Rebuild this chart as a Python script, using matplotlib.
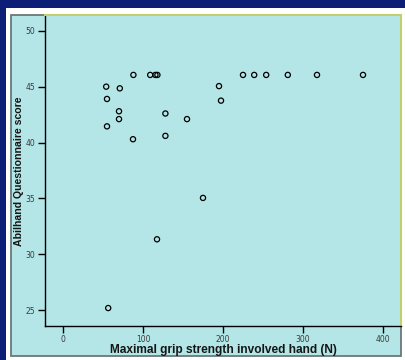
import matplotlib.pyplot as plt
from matplotlib.patches import Rectangle

# grip strength (N) vs Abilhand score
grip = [54, 55, 55, 71, 70, 70, 88, 87.5, 109, 115.5, 118, 128, 128,
        155, 225, 239, 254, 281, 317.5, 375, 195, 197.5, 117.5, 56.5, 175]
score = [45.0, 43.9, 41.45, 44.85, 42.8, 42.1, 46.05, 40.3, 46.05, 46.05, 46.05,
         42.6, 40.6, 42.1, 46.05, 46.05, 46.05, 46.05, 46.05, 46.05, 45.05,
         43.75, 31.35, 25.2, 35.05]
xticks = [0, 100, 200, 300, 400]
yticks = [25, 30, 35, 40, 45, 50]

W, H = 405, 360
NAVY = "#0c1e76"
CYAN = "#b4e6e8"
OLIVE = "#c3cf6c"
GREY = "#6b7878"

fig = plt.figure(figsize=(W / 100, H / 100), dpi=100, facecolor=NAVY)

def box(x0, y0, x1, y1, **kw):
    # pixel box (top-left origin) -> figure rectangle
    r = Rectangle((x0 / W, 1 - y1 / H), (x1 - x0) / W, (y1 - y0) / H,
                  transform=fig.transFigure, zorder=-5, **kw)
    fig.patches.append(r)

box(6, 8, 406, 361, facecolor="white", edgecolor="none")
box(10.5, 15, 401, 355.7, facecolor=CYAN, edgecolor=GREY, linewidth=1.3)

ax = fig.add_axes([45 / W, 1 - 325.6 / H, (401 - 45) / W, (325.6 - 15) / H])
ax.set_zorder(2)
ax.set_facecolor(CYAN)
ax.scatter(grip, score, s=14, facecolors="none", edgecolors="black",
           linewidths=0.9, zorder=3, clip_on=False)

ax.set_xlim(-22.5, 422.5)
ax.set_ylim(23.63, 51.41)
ax.set_xticks(xticks)
ax.set_yticks(yticks)
ax.tick_params(length=5, width=1, color="black", labelsize=5.5,
               labelcolor="#3a3a3a", pad=2)

for s in ("top", "right"):
    ax.spines[s].set_color(OLIVE)
    ax.spines[s].set_linewidth(1.5)
for s in ("left", "bottom"):
    ax.spines[s].set_color("black")
    ax.spines[s].set_linewidth(1.0)

fig.text(223 / W, 1 - 350.5 / H, "Maximal grip strength involved hand (N)",
         family="Liberation Sans", weight="bold", fontsize=8.6,
         ha="center", va="center", color="#151515")
fig.text(19.5 / W, 1 - 171 / H, "Abilhand Questionnaire score",
         family="Liberation Sans", weight="bold", fontsize=7.6,
         rotation=90, ha="center", va="center", color="#151515")

fig.savefig("out.png", dpi=100, facecolor=NAVY)
